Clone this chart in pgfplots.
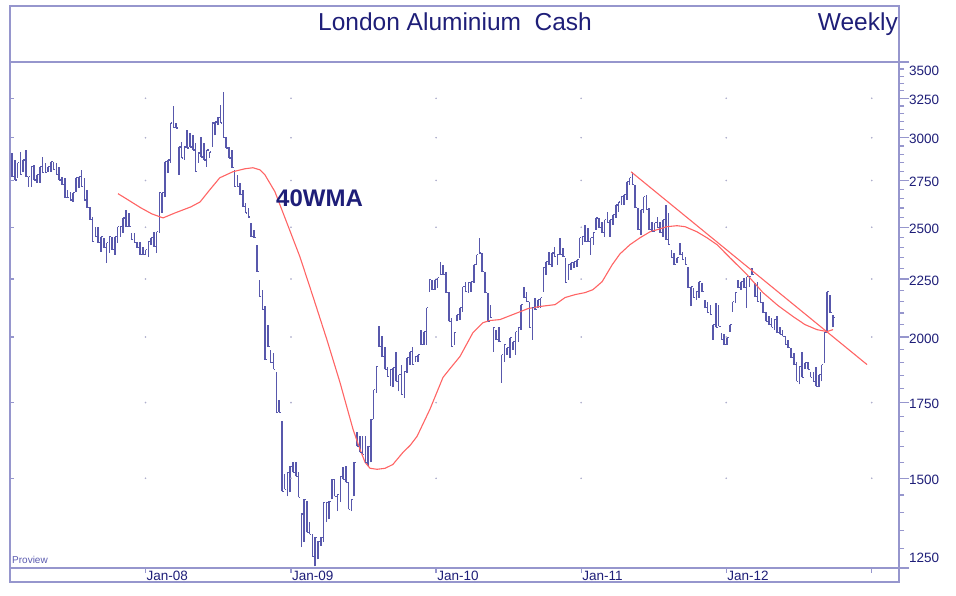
\documentclass[border=0pt]{standalone}
\usepackage{pgfplots}
\pgfplotsset{compat=1.18}
\usepackage{pgfplotstable}
\usepackage{fontspec}
\setmainfont{Liberation Sans}
\definecolor{framec}{RGB}{150,150,205}
\definecolor{barc}{RGB}{88,88,172}
\definecolor{textc}{RGB}{30,30,120}
\definecolor{redc}{RGB}{255,100,100}
\definecolor{gridc}{RGB}{175,175,205}
\definecolor{proc}{RGB}{90,90,175}
\pgfdeclareplotmark{rtick}{\pgfpathmoveto{\pgfqpoint{0pt}{0pt}}\pgfpathlineto{\pgfqpoint{\pgfplotmarksize}{0pt}}\pgfusepathqstroke}

\pgfplotstableread{
w lo hi cl
-48 2771 2908 2771
-47 2753 2867 2753
-46 2765 2850 2850
-45 2782 2914 2782
-44 2799 2867 2867
-43 2771 2926 2771
-42 2715 2771 2771
-41 2715 2827 2827
-40 2753 2839 2753
-39 2737 2782 2782
-38 2737 2827 2827
-37 2793 2885 2793
-36 2793 2850 2793
-35 2799 2827 2827
-34 2799 2856 2856
-33 2810 2856 2810
-32 2782 2850 2782
-31 2753 2827 2753
-30 2726 2771 2726
-29 2654 2765 2654
-28 2654 2698 2654
-27 2643 2688 2643
-26 2632 2682 2682
-25 2688 2765 2765
-24 2709 2771 2771
-23 2715 2810 2715
-22 2643 2765 2643
-21 2601 2698 2601
-20 2538 2606 2538
-19 2427 2553 2427
-18 2452 2503 2452
-17 2422 2503 2422
-16 2378 2452 2452
-15 2398 2447 2398
-14 2326 2422 2422
-13 2373 2452 2452
-12 2388 2452 2388
-11 2364 2452 2452
-10 2422 2503 2503
-9 2452 2503 2503
-8 2472 2548 2548
-7 2503 2590 2503
-6 2503 2574 2503
-5 2437 2472 2437
-4 2422 2472 2422
-3 2398 2427 2398
-2 2364 2427 2364
-1 2364 2403 2364
0 2364 2388 2388
1 2354 2427 2427
2 2413 2447 2447
3 2403 2477 2403
4 2373 2477 2477
5 2472 2682 2682
6 2574 2682 2682
7 2660 2856 2856
8 2793 2867 2867
9 2850 3091 3091
10 3065 3199 3065
11 3060 3091 3060
12 2782 2944 2944
13 2879 2974 2879
14 2867 2944 2944
15 2938 3046 2938
16 2944 3027 2944
17 2926 3014 2926
18 2799 2968 2799
19 2850 2908 2908
20 2885 3002 2885
21 2867 2968 2867
22 2827 2926 2926
23 2879 2914 2914
24 2944 3091 3091
25 3014 3097 3097
26 3078 3128 3128
27 3091 3206 3091
28 3002 3292 3002
29 2938 3002 2938
30 2879 2944 2879
31 2822 2926 2822
32 2715 2810 2715
33 2715 2782 2715
34 2671 2737 2671
35 2606 2698 2606
36 2574 2627 2574
37 2553 2601 2553
38 2452 2523 2452
39 2447 2487 2447
40 2284 2413 2284
41 2171 2247 2171
42 2114 2202 2114
43 1910 2128 1910
44 1961 2051 1961
45 1898 1949 1898
46 1872 1937 1872
47 1716 1864 1716
48 1716 1761 1716
49 1461 1684 1461
50 1467 1512 1467
51 1446 1519 1519
52 1458 1537 1537
53 1519 1550 1519
54 1506 1550 1506
55 1443 1519 1443
56 1304 1395 1395
57 1318 1437 1437
58 1344 1432 1344
59 1339 1372 1339
60 1280 1339 1280
61 1254 1331 1331
62 1272 1320 1320
63 1307 1331 1331
64 1318 1429 1429
65 1372 1429 1429
66 1380 1432 1432
67 1437 1497 1497
68 1446 1497 1446
69 1403 1452 1452
70 1429 1506 1506
71 1497 1534 1497
72 1488 1537 1488
73 1409 1488 1409
74 1403 1437 1437
75 1446 1550 1550
76 1601 1650 1601
77 1581 1634 1581
78 1575 1634 1575
79 1550 1634 1550
80 1537 1601 1601
81 1550 1691 1691
82 1691 1797 1797
83 1786 1883 1883
84 1961 2043 1961
85 1922 2002 1922
86 1872 1961 1872
87 1845 1883 1845
88 1809 1872 1872
89 1805 1879 1879
90 1827 1941 1827
91 1790 1853 1853
92 1779 1891 1779
93 1768 1864 1864
94 1860 1918 1918
95 1891 1941 1941
96 1891 1961 1891
97 1902 1922 1922
98 1902 1930 1930
99 1969 2030 1969
100 1969 2022 2022
101 1969 2123 2123
102 2193 2247 2247
103 2202 2247 2202
104 2202 2247 2247
105 2211 2256 2256
106 2270 2331 2270
107 2270 2316 2270
108 2189 2284 2189
109 2064 2193 2064
110 1961 2080 1961
111 1969 2018 2018
112 2064 2093 2093
113 2072 2123 2123
114 2106 2216 2216
115 2193 2238 2193
116 2189 2234 2234
117 2193 2238 2238
118 2234 2316 2316
119 2316 2364 2364
120 2373 2447 2373
121 2284 2373 2284
122 2189 2284 2189
123 2064 2189 2064
124 2080 2136 2080
125 1941 2039 2039
126 1989 2030 1989
127 1981 2039 1981
128 1823 1930 1930
129 1902 1969 1969
130 1930 1957 1957
131 1918 1998 1998
132 1949 1981 1981
133 1930 2022 2022
134 1981 2039 2039
135 2030 2136 2136
136 2167 2216 2167
137 2149 2193 2149
138 2039 2149 2039
139 1989 2123 2123
140 2114 2167 2114
141 2123 2158 2158
142 2123 2167 2167
143 2193 2302 2302
144 2270 2331 2331
145 2316 2378 2316
146 2307 2373 2373
147 2354 2403 2354
148 2316 2364 2364
149 2364 2447 2364
150 2354 2398 2354
151 2234 2349 2234
152 2247 2316 2316
153 2293 2326 2326
154 2302 2331 2331
155 2307 2340 2340
156 2349 2447 2447
157 2413 2452 2452
158 2427 2513 2427
159 2427 2498 2427
160 2364 2447 2447
161 2413 2472 2472
162 2487 2548 2548
163 2498 2548 2498
164 2472 2528 2472
165 2452 2538 2538
166 2523 2580 2523
167 2452 2538 2538
168 2513 2564 2564
169 2548 2616 2616
170 2580 2632 2632
171 2616 2660 2660
172 2616 2671 2671
173 2643 2742 2742
174 2726 2765 2765
175 2726 2799 2726
176 2601 2726 2601
177 2487 2601 2487
178 2462 2590 2590
179 2574 2660 2660
180 2590 2671 2590
181 2487 2601 2487
182 2477 2528 2477
183 2477 2523 2523
184 2498 2553 2498
185 2472 2528 2472
186 2452 2538 2538
187 2437 2616 2437
188 2413 2574 2413
189 2349 2388 2349
190 2316 2373 2316
191 2326 2349 2349
192 2364 2422 2364
193 2340 2378 2340
194 2316 2354 2316
195 2211 2307 2211
196 2128 2216 2216
197 2167 2211 2167
198 2158 2193 2193
199 2167 2238 2238
200 2193 2234 2193
201 2123 2158 2123
202 2102 2149 2102
203 2093 2136 2093
204 1989 2051 2051
205 2039 2145 2039
206 2043 2136 2043
207 1989 2018 1989
208 1969 2010 1969
209 1969 1998 1998
210 2022 2051 2051
211 2106 2149 2149
212 2145 2189 2189
213 2211 2247 2211
214 2202 2238 2238
215 2211 2256 2211
216 2123 2261 2261
217 2216 2261 2261
218 2270 2302 2270
219 2171 2234 2171
220 2149 2238 2149
221 2145 2193 2145
222 2102 2149 2102
223 2064 2106 2064
224 2051 2085 2051
225 2039 2080 2039
226 2030 2072 2072
227 2018 2085 2018
228 2010 2039 2010
229 2002 2030 2002
230 1969 2002 1969
231 1957 1989 1957
232 1918 1957 1918
233 1891 1937 1891
234 1827 1902 1827
235 1816 1883 1883
236 1842 1941 1842
237 1872 1898 1898
238 1872 1902 1872
239 1842 1864 1842
240 1827 1864 1827
241 1809 1883 1809
242 1805 1853 1853
243 1827 1891 1891
244 1898 2018 2018
245 2018 2193 2193
246 2102 2180 2102
247 2039 2093 2080
}\bars

\pgfplotstableread{
w p
-9.9 2677
-7.4 2654
-1.7 2601
2.3 2569
6.3 2548
10.6 2574
16.3 2606
19.6 2632
23.1 2698
26.7 2765
31.4 2799
35.7 2816
38.6 2822
41.1 2810
42.9 2782
46.5 2688
50.8 2523
55.5 2354
60.2 2171
65.2 1989
69.9 1823
74.6 1657
77.1 1591
78.9 1550
80.7 1531
83.2 1528
86.1 1531
88.9 1543
92.5 1581
95.1 1604
97.6 1634
102.2 1726
106.9 1842
109.4 1875
113.0 1922
117.7 2018
121.3 2059
123.8 2068
127.4 2072
133.9 2102
137.5 2119
141.8 2128
147.2 2136
150.8 2167
154.4 2180
158.0 2189
160.8 2202
164.1 2238
167.7 2316
170.5 2368
174.1 2413
177.7 2447
181.3 2477
184.9 2492
187.4 2503
191.0 2508
193.9 2503
198.2 2477
201.8 2447
205.4 2413
210.1 2349
216.2 2270
221.9 2189
227.3 2132
232.7 2085
237.0 2051
241.3 2030
244.9 2022
247.1 2030
}\wma

\begin{document}
\begin{tikzpicture}
\path[use as bounding box] (0pt,0pt) rectangle (956pt,596pt);
\draw[framec, line width=1.3pt] (10pt,14pt) rectangle (899pt,590pt);
\node[anchor=base west, inner sep=0pt, text=textc, font=\fontsize{24.5}{27}\selectfont] at (318pt,565pt) {London Aluminium~~Cash};
\node[anchor=base east, inner sep=0pt, text=textc, font=\fontsize{24.5}{27}\selectfont] at (898pt,565pt) {Weekly};

% left inward ticks
\begin{axis}[
  at={(10pt,28pt)}, anchor=south west, scale only axis,
  width=889pt, height=506pt,
  xmin=-48.7, xmax=270.8,
  ymode=log, ymin=1250, ymax=3500,
  axis x line=none, axis y line*=left,
  axis line style={draw=none},
  ytick={1500,1750,2000,2250,2500,2750,3000,3250},
  yticklabels={}, yminorticks=false,
  tick align=inside, major tick length=4pt,
  tick style={framec, line width=1.2pt},
]
\end{axis}

% x ticks and labels
\begin{axis}[
  at={(10pt,28pt)}, anchor=south west, scale only axis,
  width=889pt, height=506pt,
  xmin=-48.7, xmax=270.8, ymin=0, ymax=1,
  axis x line*=bottom, axis y line=none,
  axis line style={draw=none},
  xtick={0,52.29,104.43,156.57,208.71,261.0},
  xticklabels={Jan-08,Jan-09,Jan-10,Jan-11,Jan-12,{}},
  tick align=outside, major tick length=5pt,
  tick style={framec, line width=1.2pt},
  xticklabel style={font=\fontsize{13.5}{14}\selectfont, text=textc, anchor=west, inner sep=0pt, xshift=1pt, yshift=-3pt},
]
\end{axis}

\begin{axis}[
  at={(10pt,28pt)}, anchor=south west, scale only axis,
  width=889pt, height=506pt,
  xmin=-48.7, xmax=270.8,
  ymode=log, ymin=1250, ymax=3500,
  axis line style={framec, line width=1.3pt},
  xtick=\empty,
  ytick={1250,1500,1750,2000,2250,2500,2750,3000,3250,3500},
  yticklabels={{},1500,1750,2000,2250,2500,2750,3000,3250,{}},
  minor ytick={1300,1350,1400,1450,1550,1600,1650,1700,1800,1850,1900,1950,2050,2100,2150,2200,2300,2350,2400,2450,2550,2600,2650,2700,2800,2850,2900,2950,3050,3100,3150,3200,3300,3350,3400,3450},
  ytick pos=right, yticklabel pos=right,
  tick align=outside,
  major tick length=10pt, minor tick length=5pt,
  tick style={framec, line width=1.2pt},
  yticklabel style={font=\fontsize{13.5}{14}\selectfont, text=textc, anchor=west, inner sep=0pt, yshift=-1.5pt},
]
\addplot[only marks, mark=*, mark size=0.6pt, gridc, forget plot] coordinates {
(0,1500) (0,1750) (0,2000) (0,2250) (0,2500) (0,2750) (0,3000) (0,3250)
(52.29,1500) (52.29,1750) (52.29,2000) (52.29,2250) (52.29,2500) (52.29,2750) (52.29,3000) (52.29,3250)
(104.43,1500) (104.43,1750) (104.43,2000) (104.43,2250) (104.43,2500) (104.43,2750) (104.43,3000) (104.43,3250)
(156.57,1500) (156.57,1750) (156.57,2000) (156.57,2250) (156.57,2500) (156.57,2750) (156.57,3000) (156.57,3250)
(208.71,1500) (208.71,1750) (208.71,2000) (208.71,2250) (208.71,2500) (208.71,2750) (208.71,3000) (208.71,3250)
(261.0,1500) (261.0,1750) (261.0,2000) (261.0,2250) (261.0,2500) (261.0,2750) (261.0,3000) (261.0,3250)
};
\addplot[draw=none, mark=none, forget plot,
  error bars/.cd, y dir=plus, y explicit, error mark=none,
  error bar style={draw=barc, line width=1.55pt}]
  table[x=w, y=lo, y error expr=\thisrow{hi}-\thisrow{lo}] {\bars};
\addplot[only marks, mark=rtick, mark size=1.8pt, mark options={draw=barc, line width=1.2pt}, forget plot]
  table[x=w, y=cl] {\bars};
\addplot[redc, line width=1.1pt, mark=none] table[x=w, y=p] {\wma};
\addplot[redc, line width=1.1pt, mark=none] coordinates {(174.5,2799) (259.3,1891)};
\end{axis}

\node[anchor=west, inner sep=0pt, text=textc, font=\fontsize{13.5}{14}\selectfont] at (909pt,525pt) {3500};
\node[anchor=west, inner sep=0pt, text=textc, font=\fontsize{13.5}{14}\selectfont] at (909pt,38pt) {1250};
\node[anchor=base west, inner sep=0pt, text=textc, font=\bfseries\fontsize{24}{26}\selectfont] at (276pt,389pt) {40WMA};
\node[anchor=base west, inner sep=0pt, text=proc, font=\fontsize{10}{12}\selectfont] at (12pt,32pt) {Proview};
\end{tikzpicture}
\end{document}
